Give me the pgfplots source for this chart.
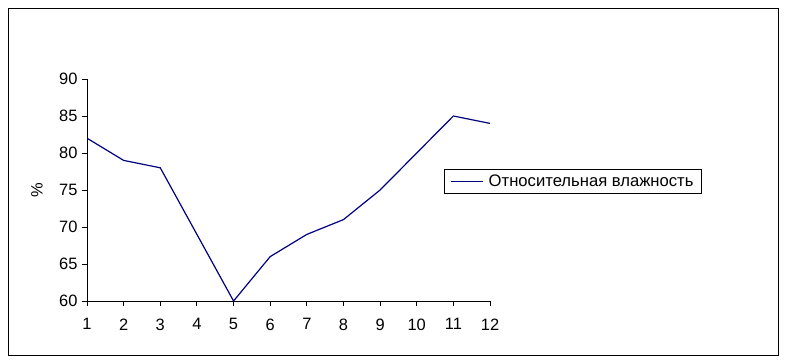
\documentclass[border=0pt]{standalone}
\usepackage{pgfplots}
\pgfplotsset{compat=1.18}
\usepackage{fontspec}
\setmainfont{Liberation Sans}
\definecolor{navyline}{RGB}{0,0,128}
\begin{document}
\begin{tikzpicture}[x=1bp,y=1bp]
\path[use as bounding box] (0,0) rectangle (786,363);
\draw[black, line width=0.9bp] (8.5,8) rectangle (778,355);
\begin{axis}[
  at={(87bp,62bp)}, anchor=south west,
  scale only axis, width=403bp, height=222bp,
  xmin=1, xmax=12, ymin=60, ymax=90,
  axis x line*=bottom, axis y line*=left,
  axis line style={line width=0.9bp, -},
  xtick={1,...,12}, ytick={60,65,...,90},
  tick align=outside, major tick length=5bp,
  tick style={line width=0.9bp, black},
  tick label style={font=\fontsize{16.5}{19}\selectfont},
  /pgf/number format/assume math mode=true,
  xticklabel style={yshift=-9bp},
  yticklabel style={xshift=-1bp},
  ylabel={\%},
  ylabel style={at={(axis description cs:-0.124,0.5)}, anchor=center, font=\fontsize{16.5}{19}\selectfont},
  legend style={at={(axis description cs:0.886,0.595)}, anchor=north west, draw=black, line width=0.9bp,
    font=\fontsize{16.7}{19}\selectfont, inner xsep=6bp, inner ysep=3.5bp, column sep=3bp},
  legend image code/.code={\draw[navyline, line width=1.2bp] (0bp,0bp) -- (32bp,0bp);},
]
\addplot[navyline, line width=1.2bp] coordinates {
(1,82) (2,79) (3,78) (4,69) (5,60) (6,66) (7,69) (8,71) (9,75) (10,80) (11,85) (12,84)
};
\addlegendentry{Относительная влажность}
\end{axis}
\end{tikzpicture}
\end{document}
